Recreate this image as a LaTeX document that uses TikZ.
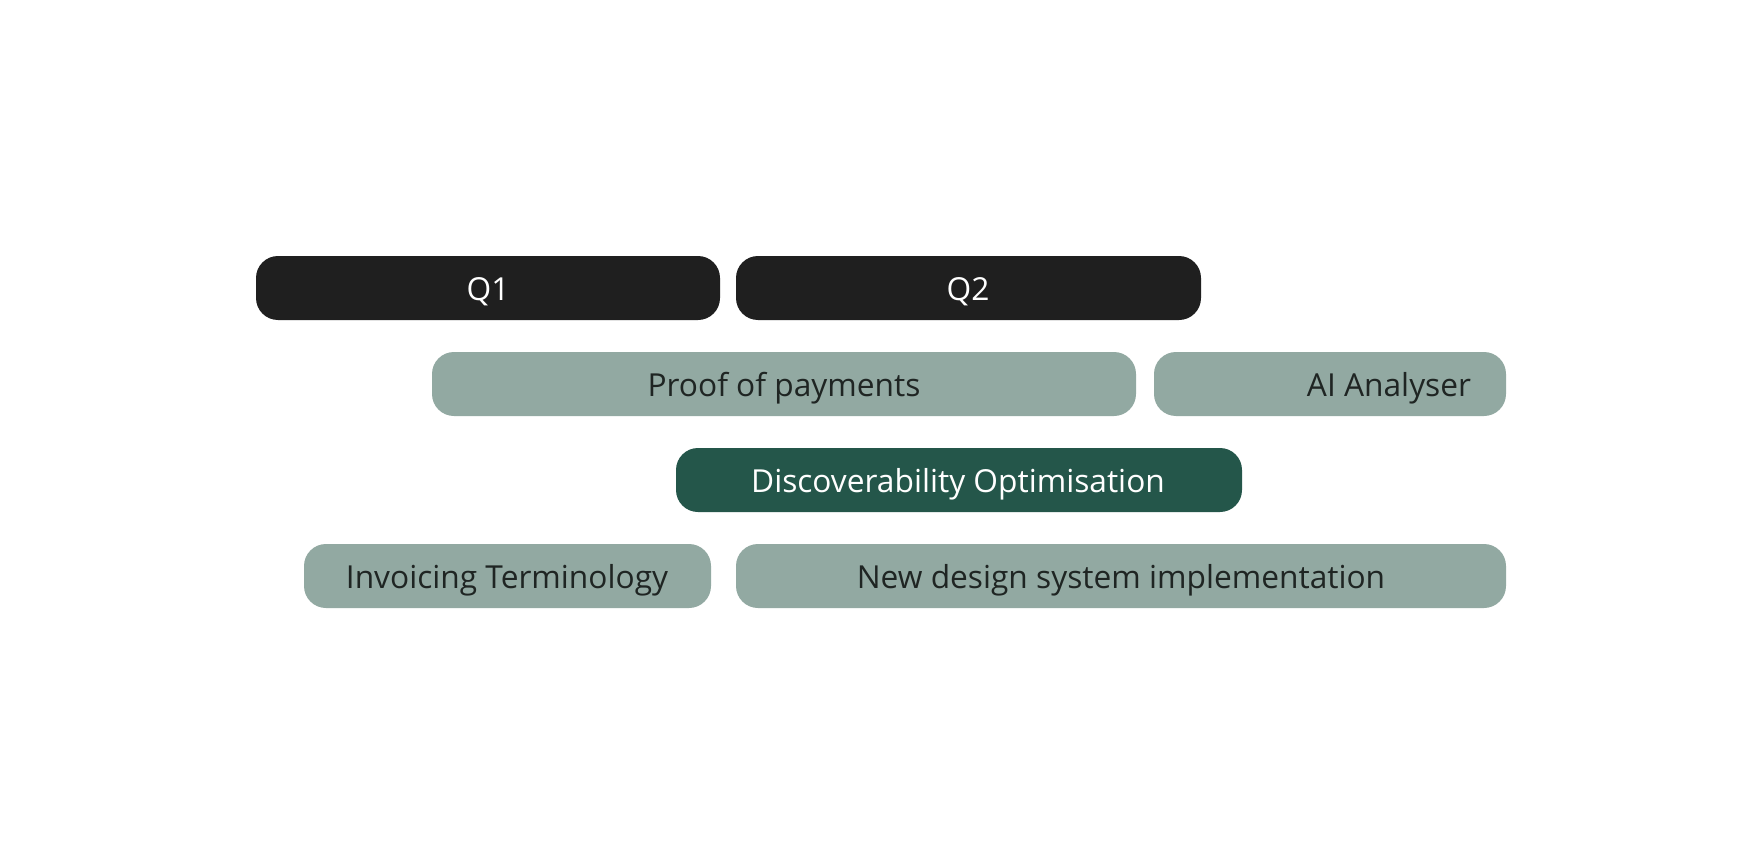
\documentclass[tikz,border=0pt]{standalone}
\usepackage{fontspec}
\setmainfont{Open Sans}
\definecolor{qblack}{HTML}{1F1F1F}
\definecolor{sage}{HTML}{92A9A2}
\definecolor{deepgreen}{HTML}{24564A}
\definecolor{inktext}{HTML}{1F2523}
\begin{document}
\begin{tikzpicture}[x=1pt,y=-1pt,
  bar/.style={rounded corners=22pt, draw=none},
  lbl/.style={font=\fontsize{31.7}{36}\selectfont, inner sep=0pt, anchor=base}]
\useasboundingbox (0,0) rectangle (1762,864);
\fill[white] (0,0) rectangle (1762,864);
% Quarters
\fill[bar, qblack] (256,256) rectangle (720,320);
\node[lbl, white] (q1) at (488,300) {Q1};
\fill[bar, qblack] (736,256) rectangle (1201,320);
\node[lbl, white] (q2) at (968,300) {Q2};
% Row 1
\fill[bar, sage] (432,352) rectangle (1136,416);
\node[lbl, inktext] (pop) at (784,396) {Proof of payments};
\fill[bar, sage] (1154,352) rectangle (1506,416);
\node[lbl, inktext] (ai) at (1389,396) {AI Analyser};
% Row 2
\fill[bar, deepgreen] (676,448) rectangle (1242,512);
\node[lbl, white] (disc) at (958,492) {Discoverability Optimisation};
% Row 3
\fill[bar, sage] (304,544) rectangle (711,608);
\node[lbl, inktext] (inv) at (507,588) {Invoicing Terminology};
\fill[bar, sage] (736,544) rectangle (1506,608);
\node[lbl, inktext] (nds) at (1121,588) {New design system implementation};
\end{tikzpicture}
\end{document}
